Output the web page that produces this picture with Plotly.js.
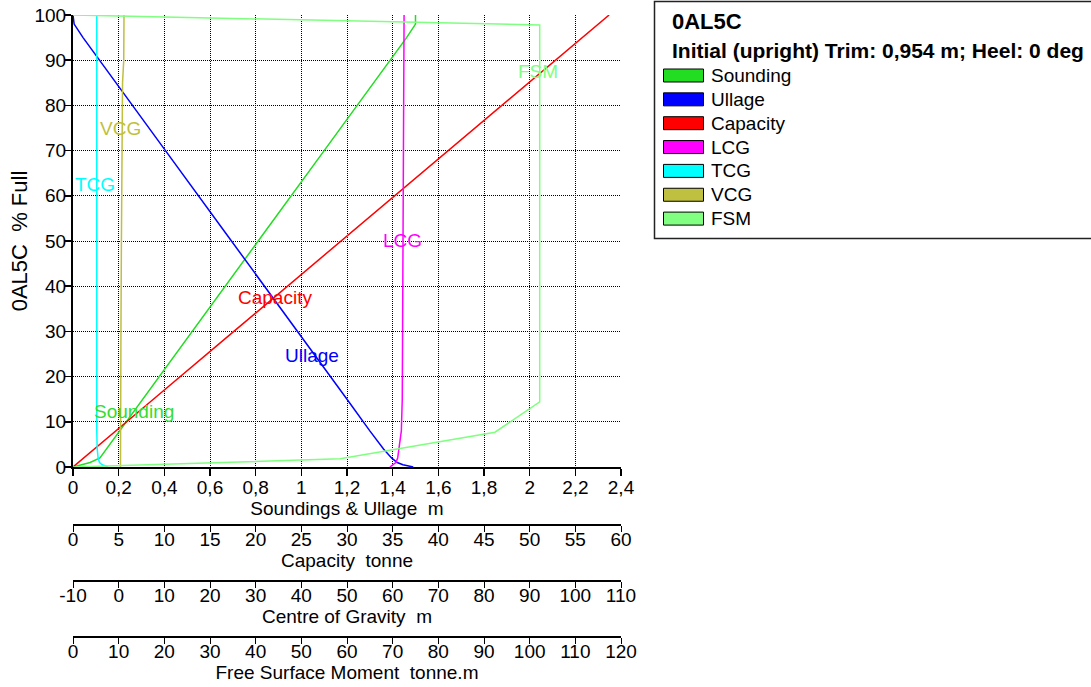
<!DOCTYPE html>
<html>
<head>
<meta charset="utf-8">
<script src="https://cdn.plot.ly/plotly-3.0.1.min.js"></script>
<style>
html,body{margin:0;padding:0;background:#fff;}
#chart{width:1091px;height:687px;}
</style>
</head>
<body>
<div id="chart"></div>
<script>
// ---- data ----
const fillPct     = [0, 0.5, 1, 2, 4, 8, 15, 30, 50, 70, 85, 90, 95, 98, 100];
const soundingM   = [0, 0.04, 0.075, 0.118, 0.147, 0.205, 0.306, 0.523, 0.811, 1.100, 1.317, 1.389, 1.461, 1.500, 1.500];
const ullageM     = [1.49, 1.445, 1.42, 1.395, 1.36, 1.30, 1.20, 0.982, 0.694, 0.405, 0.188, 0.116, 0.044, 0.005, 0];
const capacityT   = [0, 0.29, 0.59, 1.17, 2.35, 4.70, 8.80, 17.61, 29.35, 41.09, 49.9, 52.8, 55.8, 57.5, 58.7];
const lcgM        = [59.4, 60.2, 60.7, 61.1, 61.4, 61.9, 62.1, 62.2, 62.3, 62.35, 62.4, 62.45, 62.5, 62.5, 62.5];
const tcgM        = [-2.3, -3.6, -4.2, -4.5, -4.7, -4.8, -4.8, -4.8, -4.8, -4.8, -4.8, -4.8, -4.8, -4.8, -4.8];
const vcgM        = [0.40, 0.40, 0.40, 0.40, 0.41, 0.42, 0.44, 0.50, 0.60, 0.70, 0.85, 1.11, 1.17, 1.17, 1.17];
const fsmPct      = [0, 1.8, 7.7, 14.4, 97.8, 100];
const fsmTm       = [0, 58.5, 92.4, 102.2, 102.2, 0];

const seriesNames  = ['Sounding', 'Ullage', 'Capacity', 'LCG', 'TCG', 'VCG', 'FSM'];
const seriesColors = ['#22DD22', '#0000FF', '#FF0000', '#FF00FF', '#00FFFF', '#BFBF40', '#80FF80'];
// curve label positions (in Soundings m / % Full)
const labelX = [0.267, 1.047, 0.885, 1.445, 0.096, 0.210, 2.036];
const labelY = [12.2, 24.6, 37.4, 50.2, 62.4, 75.0, 87.4];

const cogTicks = [-10, 0, 10, 20, 30, 40, 50, 60, 70, 80, 90, 100, 110];

const legendTitle    = '0AL5C';
const legendSubtitle = 'Initial (upright) Trim: 0,954 m; Heel: 0 deg';
const yTitle   = '0AL5C\u00A0 % Full';
const x1Title  = 'Soundings & Ullage\u00A0 m';
const x2Title  = 'Capacity\u00A0 tonne';
const x3Title  = 'Centre of Gravity\u00A0 m';
const x4Title  = 'Free Surface Moment\u00A0 tonne.m';

// ---- geometry ----
const W = 1091, H = 687, ML = 73;
const PW = W - ML;               // paper width
const px = v => (v - ML) / PW;   // pixel -> paper x
const py = v => (H - v) / H;     // pixel -> paper y
const xDom = [0, px(621)];
const yDom = [py(467), py(15)];

const ARIAL = 'Arial, "Liberation Sans", sans-serif';
const NARROW = '"Liberation Sans Narrow", "Arial Narrow", Arial, sans-serif';

const traces = [
  {x: soundingM, y: fillPct, xaxis: 'x',  yaxis: 'y'},
  {x: ullageM,   y: fillPct, xaxis: 'x',  yaxis: 'y'},
  {x: capacityT, y: fillPct, xaxis: 'x2', yaxis: 'y'},
  {x: lcgM,      y: fillPct, xaxis: 'x3', yaxis: 'y'},
  {x: tcgM,      y: fillPct, xaxis: 'x3', yaxis: 'y'},
  {x: vcgM,      y: fillPct, xaxis: 'x3', yaxis: 'y'},
  {x: fsmTm,     y: fsmPct,  xaxis: 'x4', yaxis: 'y'}
].map((t, i) => Object.assign(t, {
  type: 'scatter', mode: 'lines', name: seriesNames[i],
  line: {color: seriesColors[i], width: 1.5}, hoverinfo: 'skip'
}));

const gridStyle = {showgrid: true, gridcolor: '#000', gridwidth: 1, griddash: '1px,1px'};

function lowerAxis(range, dtick, pos, title) {
  return {
    overlaying: 'x', anchor: 'free', position: pos, domain: xDom, side: 'bottom',
    range: range, tick0: 0, dtick: dtick, showgrid: false, zeroline: false,
    showline: true, linecolor: '#000', linewidth: 1.5,
    ticks: 'outside', ticklen: 6, tickcolor: '#000', tickwidth: 1,
    ticklabelstandoff: -8,
    tickfont: {family: NARROW, size: 19, color: '#000'},
    title: {text: title, font: {family: NARROW, size: 19, color: '#000'}, standoff: 3},
    fixedrange: true
  };
}

const shapes = [];
const annotations = [];

// legend box
shapes.push({type: 'rect', xref: 'paper', yref: 'paper',
  x0: px(654.5), x1: px(1096), y0: py(238.5), y1: py(1.5),
  line: {color: '#222', width: 1.5}, fillcolor: 'rgba(0,0,0,0)', layer: 'above'});
annotations.push({xref: 'paper', yref: 'paper', x: px(669.5), y: py(21.5), xanchor: 'left', yanchor: 'middle',
  text: '<b>' + legendTitle + '</b>', showarrow: false, font: {family: ARIAL, size: 22, color: '#000'}});
annotations.push({xref: 'paper', yref: 'paper', x: px(669.5), y: py(51), xanchor: 'left', yanchor: 'middle',
  text: '<b>' + legendSubtitle + '</b>', showarrow: false, font: {family: ARIAL, size: 21, color: '#000'}});
seriesNames.forEach((n, i) => {
  const yc = 75.5 + i * 23.85;
  shapes.push({type: 'rect', xref: 'paper', yref: 'paper',
    x0: px(663.5), x1: px(703.5), y0: py(yc + 6.5), y1: py(yc - 6.5),
    fillcolor: seriesColors[i], line: {color: '#000', width: 1}, layer: 'above'});
  annotations.push({xref: 'paper', yref: 'paper', x: px(709), y: py(yc), xanchor: 'left', yanchor: 'middle',
    text: n, showarrow: false, font: {family: ARIAL, size: 19, color: '#000'}});
  // curve labels
  annotations.push({xref: 'x', yref: 'y', x: labelX[i], y: labelY[i], xanchor: 'center', yanchor: 'middle',
    text: n, showarrow: false, font: {family: ARIAL, size: 19, color: seriesColors[i] === '#22DD22' ? '#33DD33' : seriesColors[i]}});
});

const layout = {
  width: W, height: H,
  margin: {l: ML, r: 0, t: 0, b: 0, pad: 0},
  paper_bgcolor: '#fff', plot_bgcolor: '#fff',
  showlegend: false,
  separators: ', ',
  font: {family: ARIAL, color: '#000'},
  xaxis: Object.assign({
    domain: xDom, range: [0, 2.4], tick0: 0, dtick: 0.2, zeroline: false,
    showline: true, linecolor: '#000', linewidth: 2,
    ticks: 'outside', ticklen: 7, tickcolor: '#000', tickwidth: 1.5,
    ticklabelstandoff: -5,
    tickfont: {family: ARIAL, size: 19, color: '#000'},
    title: {text: x1Title, font: {family: NARROW, size: 19, color: '#000'}, standoff: 0},
    fixedrange: true
  }, gridStyle),
  yaxis: Object.assign({
    domain: yDom, range: [0, 100], tick0: 0, dtick: 10, zeroline: false,
    showline: true, linecolor: '#000', linewidth: 2,
    ticks: 'outside', ticklen: 6, tickcolor: '#000', tickwidth: 1.5,
    ticklabelstandoff: -5,
    tickfont: {family: ARIAL, size: 19, color: '#000'},
    title: {text: yTitle, font: {family: ARIAL, size: 22, color: '#000'}, standoff: 1},
    fixedrange: true
  }, gridStyle),
  xaxis2: lowerAxis([0, 60], 5, py(524), x2Title),
  xaxis3: Object.assign(lowerAxis([-10, 110], 10, py(580), x3Title),
    {tickmode: 'array', tickvals: cogTicks, ticktext: cogTicks.map(String)}),
  xaxis4: lowerAxis([0, 120], 10, py(636), x4Title),
  shapes: shapes,
  annotations: annotations
};

Plotly.newPlot('chart', traces, layout, {staticPlot: true, displayModeBar: false});
</script>
</body>
</html>
